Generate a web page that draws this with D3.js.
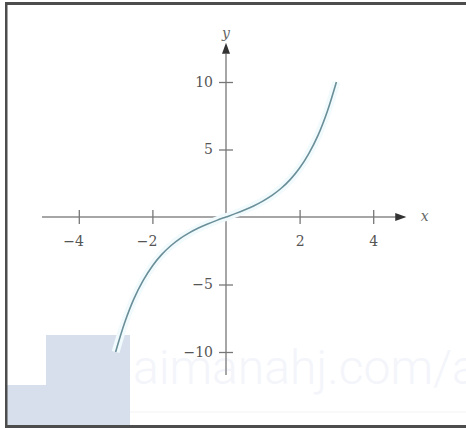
<!DOCTYPE html>
<html>
<head>
<meta charset="utf-8">
<script src="https://cdn.jsdelivr.net/npm/d3@7"></script>
<style>
    body { margin: 0; background: #fff; }
    svg { display: block; }
    .tick text { font-family: "DejaVu Serif", "Liberation Serif", serif; font-size: 14px; fill: #555; }
    .tick line { stroke: #777; stroke-width: 1.3; }
</style>
</head>
<body>
<svg id="chart" width="466" height="428"></svg>
<script>
// tick values on both axes
const xTicks = [-4, -2, 2, 4];
const yTicks = [-10, -5, 5, 10];

// curve
const curveX = [-3, -2.75, -2.5, -2.25, -2, -1.75, -1.5, -1.25, -1, -0.75, -0.5, -0.25, 0,
                0.25, 0.5, 0.75, 1, 1.25, 1.5, 1.75, 2, 2.25, 2.5, 2.75, 3];
const curveY = [-10.0, -7.8, -6.05, -4.7, -3.63, -2.79, -2.13, -1.6, -1.18, -0.82, -0.52, -0.25, 0,
                0.25, 0.52, 0.82, 1.18, 1.6, 2.13, 2.79, 3.63, 4.7, 6.05, 7.8, 10.0];

// watermark text seen on the picture
const watermark = "aimanahj.com/ae";

let svg = d3.select("#chart");

let x = d3.scaleLinear().domain([-5, 5]).range([42, 410]);
let y = d3.scaleLinear().domain([-10, 10]).range([352, 82]);

let x0 = x(0), y0 = y(0);

// watermark blocks and text (behind everything)
svg.append("rect").attr("x", 46).attr("y", 335).attr("width", 84).attr("height", 91).attr("fill", "#d7dfec");
svg.append("rect").attr("x", 6).attr("y", 385).attr("width", 40).attr("height", 41).attr("fill", "#d7dfec");
svg.append("text")
    .attr("x", 133).attr("y", 384)
    .attr("font-family", "Roboto, 'Open Sans', sans-serif")
    .attr("font-weight", 300)
    .attr("font-size", 48)
    .attr("fill", "#f3f5fa")
    .text(watermark);
svg.append("line").attr("x1", 130).attr("x2", 466).attr("y1", 412).attr("y2", 412)
    .attr("stroke", "#f3f3f3");

// axis lines
svg.append("line")
    .attr("x1", x(-5)).attr("x2", x(4.85))
    .attr("y1", y0).attr("y2", y0)
    .attr("stroke", "#888").attr("stroke-width", 1.5);
svg.append("line")
    .attr("x1", x0).attr("x2", x0)
    .attr("y1", y(-11.7)).attr("y2", y(12.1))
    .attr("stroke", "#888").attr("stroke-width", 1.5);

// arrow heads
svg.append("path")
    .attr("d", `M${x(4.6)},${y0 - 4} L${x(4.9)},${y0} L${x(4.6)},${y0 + 4} Z`)
    .attr("fill", "#333");
svg.append("path")
    .attr("d", `M${x0 - 4},${y(12.1)} L${x0},${y(12.9)} L${x0 + 4},${y(12.1)} Z`)
    .attr("fill", "#333");

// axis names
svg.append("text")
    .attr("x", x(5.4)).attr("y", y0 + 4)
    .attr("text-anchor", "middle")
    .attr("font-family", "'DejaVu Serif', serif").attr("font-style", "italic")
    .attr("font-size", 14).attr("fill", "#666")
    .text("x");
svg.append("text")
    .attr("x", x0).attr("y", y(13.4) + 2)
    .attr("text-anchor", "middle")
    .attr("font-family", "'DejaVu Serif', serif").attr("font-style", "italic")
    .attr("font-size", 14).attr("fill", "#666")
    .text("y");

// x ticks: crossing marks, digit centred on the tick
let xAxis = svg.append("g")
    .attr("transform", `translate(0,${y0})`)
    .call(d3.axisBottom(x).tickValues(xTicks).tickSize(7).tickPadding(12));
xAxis.select(".domain").remove();
xAxis.selectAll(".tick line").attr("y1", -7).attr("y2", 7);
xAxis.selectAll(".tick text")
    .attr("text-anchor", d => d < 0 ? "end" : "middle")
    .attr("x", d => d < 0 ? 4.5 : 0);

// y ticks
let yAxis = svg.append("g")
    .attr("transform", `translate(${x0},0)`)
    .call(d3.axisLeft(y).tickValues(yTicks).tickSize(7).tickPadding(6));
yAxis.select(".domain").remove();
yAxis.selectAll(".tick line").attr("x1", -7).attr("x2", 7);

// the curve
let points = curveX.map((v, i) => [v, curveY[i]]);
let line = d3.line()
    .x(d => x(d[0]))
    .y(d => y(d[1]))
    .curve(d3.curveCatmullRom);

svg.append("path")
    .datum(points)
    .attr("d", line)
    .attr("fill", "none")
    .attr("stroke", "#f1fafc")
    .attr("stroke-width", 8);

svg.append("path")
    .datum(points)
    .attr("d", line)
    .attr("fill", "none")
    .attr("stroke", "#6b8f99")
    .attr("stroke-width", 1.6);

// frame of the picture
svg.append("rect").attr("x", 5).attr("y", 2).attr("width", 461).attr("height", 3).attr("fill", "#4d4d4d");
svg.append("rect").attr("x", 5).attr("y", 2).attr("width", 2.5).attr("height", 426).attr("fill", "#4d4d4d");
svg.append("rect").attr("x", 5).attr("y", 425).attr("width", 461).attr("height", 3).attr("fill", "#4d4d4d");
</script>
</body>
</html>
